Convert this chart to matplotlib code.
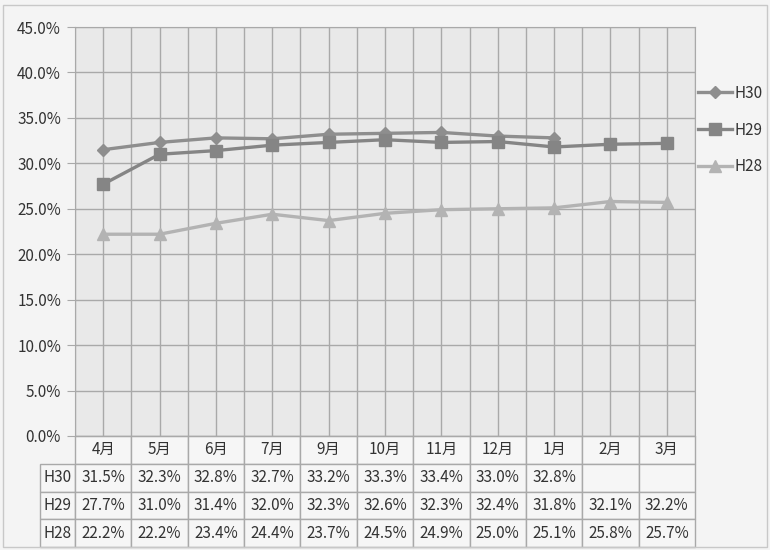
import matplotlib
matplotlib.use("Agg")
import matplotlib.pyplot as plt
from matplotlib.patches import Rectangle
from matplotlib.ticker import FuncFormatter, MultipleLocator

plt.rcParams['font.family'] = ['Noto Sans CJK JP', 'DejaVu Sans']

months = ['4月', '5月', '6月', '7月', '9月', '10月', '11月', '12月', '1月', '2月', '3月']
h30 = [31.5, 32.3, 32.8, 32.7, 33.2, 33.3, 33.4, 33.0, 32.8]
h29 = [27.7, 31.0, 31.4, 32.0, 32.3, 32.6, 32.3, 32.4, 31.8, 32.1, 32.2]
h28 = [22.2, 22.2, 23.4, 24.4, 23.7, 24.5, 24.9, 25.0, 25.1, 25.8, 25.7]
series = [('H30', h30, 'D', '#8e8e8e', 6.5),
          ('H29', h29, 's', '#858585', 8.5),
          ('H28', h28, '^', '#b3b3b3', 8)]

W, H = 770, 550
fig = plt.figure(figsize=(W / 100, H / 100), dpi=100, facecolor='#f4f4f4')
L, R, T, B = 75, 695, 27, 436
ax = fig.add_axes([L / W, 1 - B / H, (R - L) / W, (B - T) / H])
ax.set_facecolor('#e9e9e9')

grid_c = '#a9a9a9'
for name, vals, mk, col, ms in series:
    ax.plot(range(len(vals)), vals, color=col, lw=2.4, marker=mk, ms=ms,
            mfc=col, mec=col, label=name, zorder=3)

ax.set_xlim(-0.5, len(months) - 0.5)
ax.set_ylim(0, 45)
ax.yaxis.set_major_locator(MultipleLocator(5))
ax.yaxis.set_major_formatter(FuncFormatter(lambda v, p: f'{v:.1f}%'))
ax.xaxis.set_major_locator(MultipleLocator(0.5))
ax.tick_params(axis='x', length=0, labelbottom=False)
ax.tick_params(axis='y', length=6, color=grid_c, labelsize=11, labelcolor='#333333', pad=4)
ax.grid(True, color=grid_c, lw=1)
ax.set_axisbelow(True)
for s in ax.spines.values():
    s.set_color(grid_c)

# data table under the axis
n = len(months)
cells = [[''] + months]
for name, vals, *_ in series:
    cells.append([name] + [f'{v:.1f}%' for v in vals] + [''] * (n - len(vals)))
lab_w = 35
ph = B - T
pw = R - L
tbl = ax.table(cellText=cells, cellLoc='center',
               colWidths=[lab_w] + [pw / n] * n,
               bbox=[-lab_w / pw, -111 / ph, 1 + lab_w / pw, 111 / ph])
tbl.auto_set_font_size(False)
tbl.set_fontsize(11)
for (r, c), cell in tbl.get_celld().items():
    cell.set_edgecolor(grid_c)
    cell.set_facecolor('#f6f6f6')
    cell.get_text().set_color('#333333')
    if r == 0 and c == 0:
        cell.visible_edges = 'open'
        cell.set_facecolor('none')

ax.legend(loc='center left', bbox_to_anchor=(1.0, 0.748), frameon=False,
          fontsize=11, handlelength=2.2, labelspacing=1.3, handletextpad=0.2,
          borderaxespad=0.1, borderpad=0.1, labelcolor='#333333')

fig.patches.append(Rectangle((3 / W, 3 / H), 1 - 6 / W, 1 - 8 / H, transform=fig.transFigure,
                             fill=False, edgecolor='#c8c8c8', lw=1))

fig.savefig('out.png', dpi=100, facecolor=fig.get_facecolor())
